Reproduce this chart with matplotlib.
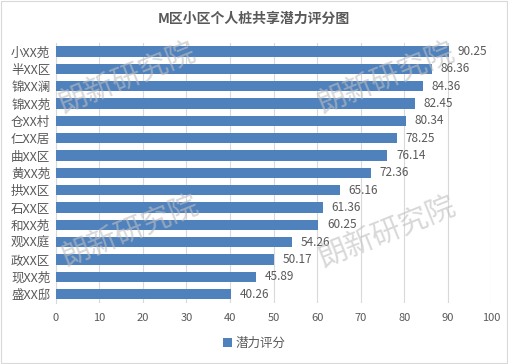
import matplotlib
matplotlib.use("Agg")
import matplotlib.pyplot as plt
from matplotlib.patches import Rectangle

plt.rcParams['font.family'] = ['Noto Sans CJK SC', 'DejaVu Sans']

categories = ["小XX苑", "半XX区", "锦XX澜", "锦XX苑", "仓XX村", "仁XX居", "曲XX区", "黄XX苑",
              "拱XX区", "石XX区", "和XX苑", "观XX庭", "政XX区", "现XX苑", "盛XX邸"]
values = [90.25, 86.36, 84.36, 82.45, 80.34, 78.25, 76.14, 72.36,
          65.16, 61.36, 60.25, 54.26, 50.17, 45.89, 40.26]
xticks = [0, 10, 20, 30, 40, 50, 60, 70, 80, 90, 100]
series_name = "潜力评分"
title = "M区小区个人桩共享潜力评分图"
watermark = "朗新研究院"

W, H = 508, 364
fig = plt.figure(figsize=(W / 100, H / 100), dpi=100)
ax = fig.add_axes([0.110, 0.168, 0.857, 0.714])

n = len(categories)
ypos = list(range(n))
bars = ax.barh(ypos, values, height=0.6, color="#4F81BD", label=series_name, zorder=3)
ax.set_ylim(n - 0.5, -0.5)
ax.set_xlim(0, 100)
ax.set_xticks(xticks)
ax.set_yticks(ypos)
ax.set_yticklabels(categories, fontsize=9, color="#595959")
ax.tick_params(axis='x', labelsize=8, colors="#595959", length=0, pad=7)
ax.tick_params(axis='y', length=0, pad=4)
ax.grid(axis='x', color="#D9D9D9", linewidth=0.8, zorder=0)
for s in ax.spines.values():
    s.set_visible(False)
ax.spines['left'].set_visible(True)
ax.spines['left'].set_color("#D9D9D9")

for y, v in zip(ypos, values):
    ax.text(v + 2.0, y, f"{v:.2f}", va='center', ha='left', fontsize=8.5, color="#595959", zorder=4)

fig.text(0.5, 0.948, title, ha='center', va='center', fontsize=10, fontweight='bold', color="#595959")

leg = fig.legend(handles=[bars], labels=[series_name], loc='center', bbox_to_anchor=(0.5, 0.057),
                 frameon=False, fontsize=9, handlelength=0.7, handleheight=0.7, handletextpad=0.3)
for t in leg.get_texts():
    t.set_color("#595959")

# watermark (centres in pixels)
for (px, py) in [(127, 78), (386, 78), (130, 231), (387, 232)]:
    fig.text(px / W, 1 - py / H, watermark, fontsize=21, color="#BFBFBF", alpha=0.6, rotation=22,
             ha='center', va='center', zorder=10)

fig.patches.append(Rectangle((0.002, 0.003), 0.996, 0.994, transform=fig.transFigure,
                             fill=False, edgecolor="#D9D9D9", linewidth=0.8))

fig.savefig("out.png", dpi=100)
